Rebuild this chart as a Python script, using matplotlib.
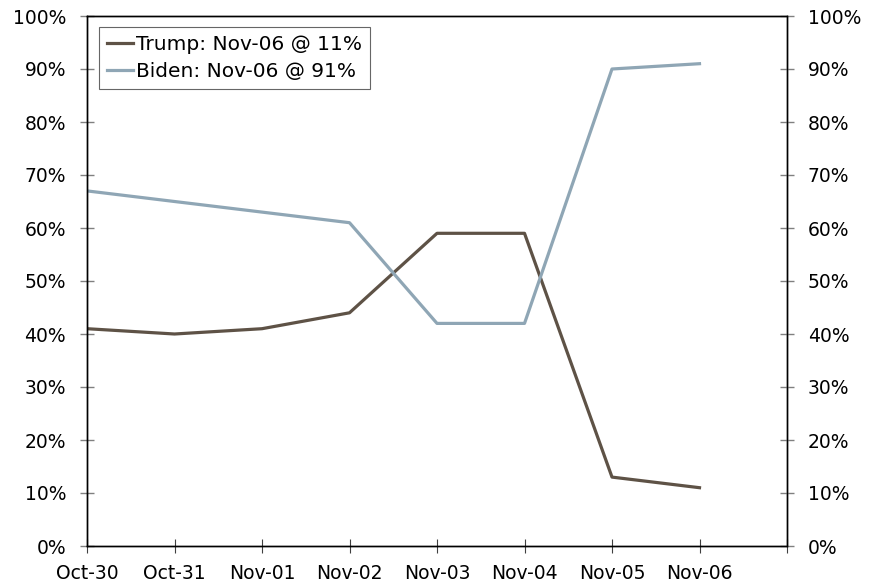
import matplotlib
matplotlib.use("Agg")
import matplotlib.pyplot as plt
from matplotlib.ticker import PercentFormatter

dates = ["Oct-30", "Oct-31", "Nov-01", "Nov-02", "Nov-03", "Nov-04", "Nov-05", "Nov-06"]
trump = [41, 40, 41, 44, 59, 59, 13, 11]
biden = [67, 65, 63, 61, 42, 42, 90, 91]

trump_color = "#5e5246"
biden_color = "#8fa6b5"

plt.rcParams["font.family"] = "DejaVu Sans"

fig = plt.figure(figsize=(8.77, 5.84), dpi=100)
ax = fig.add_axes([87 / 877, 38 / 584, 700 / 877, 530 / 584])

x = list(range(len(dates)))
ax.plot(x, trump, color=trump_color, lw=2.3,
        label=f"Trump: {dates[-1]} @ {trump[-1]}%")
ax.plot(x, biden, color=biden_color, lw=2.3,
        label=f"Biden: {dates[-1]} @ {biden[-1]}%")

ax.set_xlim(0, len(dates))
ax.set_ylim(0, 100)
ax.set_xticks(range(len(dates) + 1))
ax.set_xticklabels(dates + [""])
ax.set_yticks(range(0, 101, 10))
ax.yaxis.set_major_formatter(PercentFormatter(decimals=0))

ax2 = ax.twinx()
ax2.set_ylim(0, 100)
ax2.set_yticks(range(0, 101, 10))
ax2.yaxis.set_major_formatter(PercentFormatter(decimals=0))

for a in (ax, ax2):
    for s in a.spines.values():
        s.set_linewidth(1.0)
        s.set_color("black")
    a.tick_params(axis="y", direction="inout", length=10, width=1,
                  color="#808080", labelsize=13.5, pad=10)
ax.tick_params(axis="x", direction="inout", length=10, width=0.8,
               color="#404040", labelsize=13.5, pad=8)

leg = ax.legend(loc="upper left", bbox_to_anchor=(0.017, 0.98),
                fontsize=14.5, frameon=True, fancybox=False,
                handlelength=1.3, handletextpad=0.15, borderpad=0.4,
                labelspacing=0.4, borderaxespad=0)
leg.get_frame().set_edgecolor("#404040")
leg.get_frame().set_linewidth(0.8)

fig.savefig("out.png", dpi=100)
